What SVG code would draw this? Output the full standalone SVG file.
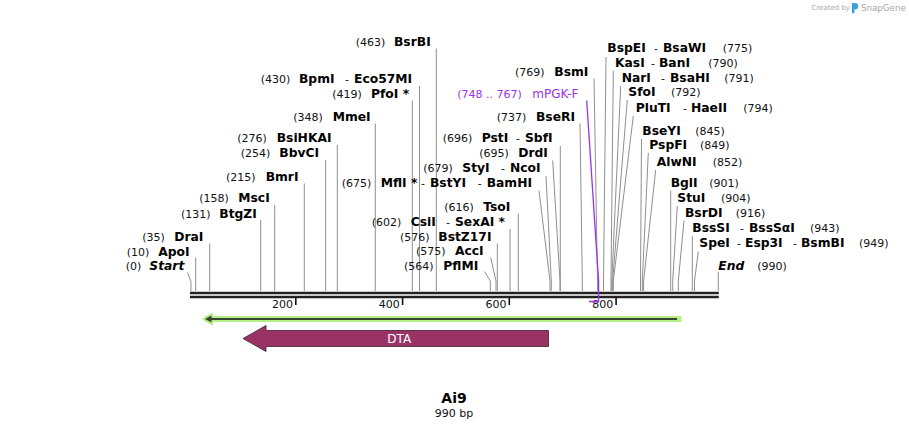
<svg xmlns="http://www.w3.org/2000/svg" width="909" height="430" viewBox="0 0 909 430">
<style>
text{font-family:"DejaVu Sans",Verdana,sans-serif;}
.n{font-size:12.3px;font-weight:bold;fill:#000;}
.i{font-size:12.3px;font-weight:bold;font-style:italic;fill:#000;}
.p{font-size:11px;fill:#111;}
.pu{fill:#9933ee;}
.c{fill:none;stroke:#8f8f8f;stroke-width:1;}
.cp{fill:none;stroke:#9933ee;stroke-width:1.3;}
.rl{stroke:#222;stroke-width:2.7;}
.tk{stroke:#111;stroke-width:1.6;}
.tl{font-size:11px;fill:#111;text-anchor:end;}
</style>
<rect width="909" height="430" fill="#fff"/>

<g id="watermark">
<text x="811.5" y="10" style="font-size:7px;fill:#a8a8a8;">Created by</text>
<path d="M852,3 h3 a3.2,3.2 0 0 1 0,6.4 h-0.6 v3.8 h-2.4 z" fill="#3aa0e0"/>
<text x="861" y="10.5" style="font-size:8.7px;fill:#a8a8a8;">SnapGene</text>
</g>

<g id="connectors">
<path class="c" d="M187.5,272.5 L191,281.5 V291"/>
<path class="c" d="M195.7,257.5 V291"/>
<path class="c" d="M209.7,243.5 V291"/>
<path class="c" d="M260.7,220 V291"/>
<path class="c" d="M274.7,205 V291"/>
<path class="c" d="M304.3,183.5 V291"/>
<path class="c" d="M325.7,160 V291"/>
<path class="c" d="M337.3,145 V291"/>
<path class="c" d="M375.3,123.5 V291"/>
<path class="c" d="M412.3,100.5 V291"/>
<path class="c" d="M419.5,86 V291"/>
<path class="c" d="M436.3,48.5 V291"/>
<path class="c" d="M484.5,271.5 L490.3,281 V291"/>
<path class="c" d="M490.7,257.5 L496,281 V291"/>
<path class="c" d="M497.3,243.5 V291"/>
<path class="c" d="M510,229 V291"/>
<path class="c" d="M518.3,213.5 V291"/>
<path class="c" d="M539,190.5 L550,281 V291"/>
<path class="c" d="M546,176 L551.3,281 V291"/>
<path class="c" d="M552.7,160.5 L560,281 V291"/>
<path class="c" d="M560.3,146 V291"/>
<path class="c" d="M580,123.5 L582.3,281 V291"/>
<path class="c" d="M594,78.5 L597.5,281 V291"/>
<path class="c" d="M606,57 L603.5,281 V291"/>
<path class="c" d="M613.3,71 L611,281 V291"/>
<path class="c" d="M620.7,86 L611.8,281 V291"/>
<path class="c" d="M627.3,100 L612.6,281 V291"/>
<path class="c" d="M633.3,116 L613.3,281 V291"/>
<path class="c" d="M641.5,139 L640.5,281 V291"/>
<path class="c" d="M648.3,153 L642.3,281 V291"/>
<path class="c" d="M655.7,170 L643.6,281 V291"/>
<path class="c" d="M670.7,190.5 V291"/>
<path class="c" d="M677.3,206 L672.7,281 V291"/>
<path class="c" d="M684,220.5 L678.3,281 V291"/>
<path class="c" d="M692.3,236 V291"/>
<path class="c" d="M698.3,251.5 L694.5,281 V291"/>
<path class="c" d="M718.3,272 V291"/>
</g>

<g id="ruler">
<line class="rl" x1="190" y1="293" x2="718.8" y2="293"/>
<line class="rl" x1="190" y1="297" x2="718.8" y2="297"/>
<line class="tk" x1="295.8" y1="298" x2="295.8" y2="305"/>
<line class="tk" x1="402.6" y1="298" x2="402.6" y2="305"/>
<line class="tk" x1="509.3" y1="298" x2="509.3" y2="305"/>
<line class="tk" x1="616.1" y1="298" x2="616.1" y2="305"/>
<text class="tl" x="293" y="307.5">200</text>
<text class="tl" x="399.8" y="307.5">400</text>
<text class="tl" x="506.5" y="307.5">600</text>
<text class="tl" x="613.3" y="307.5">800</text>
</g>

<g id="primer-mPGK-F">
<path class="cp" d="M586.7,100.5 L598.6,281 V301.5 H589"/>
<text class="p pu" x="457.3" y="97.7">(748 .. 767)</text>
<text class="pu" x="532.3" y="97.7" style="font-size:12px;">mPGK-F</text>
</g>

<g id="enz-BsrBI"><text class="p" x="355.7" y="46">(463)</text><text class="n" x="394" y="46">BsrBI</text></g>
<g id="enz-BpmI"><text class="p" x="260.7" y="83.3">(430)</text><text class="n" x="299" y="83.3">BpmI</text><text class="p" x="345" y="83.3">-</text><text class="n" x="354" y="83.3">Eco57MI</text></g>
<g id="enz-PfoI"><text class="p" x="332.3" y="97.7">(419)</text><text class="n" x="371" y="97.7">PfoI *</text></g>
<g id="enz-MmeI"><text class="p" x="293.3" y="120.7">(348)</text><text class="n" x="332.7" y="120.7">MmeI</text></g>
<g id="enz-BsiHKAI"><text class="p" x="237.3" y="142.3">(276)</text><text class="n" x="276.7" y="142.3">BsiHKAI</text></g>
<g id="enz-BbvCI"><text class="p" x="240.7" y="157.3">(254)</text><text class="n" x="279.3" y="157.3">BbvCI</text></g>
<g id="enz-BmrI"><text class="p" x="226" y="180.7">(215)</text><text class="n" x="265.7" y="180.7">BmrI</text></g>
<g id="enz-MscI"><text class="p" x="199.3" y="202.3">(158)</text><text class="n" x="238.3" y="202.3">MscI</text></g>
<g id="enz-BtgZI"><text class="p" x="181" y="217.7">(131)</text><text class="n" x="219.3" y="217.7">BtgZI</text></g>
<g id="enz-DraI"><text class="p" x="142.3" y="240.7">(35)</text><text class="n" x="174.3" y="240.7">DraI</text></g>
<g id="enz-ApoI"><text class="p" x="126.7" y="256">(10)</text><text class="n" x="158.3" y="256">ApoI</text></g>
<g id="start"><text class="p" x="125.7" y="270">(0)</text><text class="i" x="149.3" y="270">Start</text></g>

<g id="enz-BsmI"><text class="p" x="515" y="75.7">(769)</text><text class="n" x="554.3" y="75.7">BsmI</text></g>
<g id="enz-BseRI"><text class="p" x="496.7" y="120.7">(737)</text><text class="n" x="536" y="120.7">BseRI</text></g>
<g id="enz-PstI"><text class="p" x="442.7" y="142.3">(696)</text><text class="n" x="481.7" y="142.3">PstI</text><text class="p" x="516" y="142.3">-</text><text class="n" x="525" y="142.3">SbfI</text></g>
<g id="enz-DrdI"><text class="p" x="479.3" y="157.3">(695)</text><text class="n" x="518.3" y="157.3">DrdI</text></g>
<g id="enz-StyI"><text class="p" x="423.3" y="172.3">(679)</text><text class="n" x="462.3" y="172.3">StyI</text><text class="p" x="501" y="172.3">-</text><text class="n" x="510" y="172.3">NcoI</text></g>
<g id="enz-MflI"><text class="p" x="341.7" y="187.3">(675)</text><text class="n" x="380.7" y="187.3">MflI *</text><text class="p" x="421" y="187.3">-</text><text class="n" x="430" y="187.3">BstYI</text><text class="p" x="477.7" y="187.3">-</text><text class="n" x="486.7" y="187.3">BamHI</text></g>
<g id="enz-TsoI"><text class="p" x="444.3" y="210.7">(616)</text><text class="n" x="483.3" y="210.7">TsoI</text></g>
<g id="enz-CsiI"><text class="p" x="371.7" y="225.7">(602)</text><text class="n" x="410.7" y="225.7">CsiI</text><text class="p" x="446" y="225.7">-</text><text class="n" x="455" y="225.7">SexAI *</text></g>
<g id="enz-BstZ17I"><text class="p" x="400" y="240.7">(576)</text><text class="n" x="438.3" y="240.7">BstZ17I</text></g>
<g id="enz-AccI"><text class="p" x="416" y="255">(575)</text><text class="n" x="455" y="255">AccI</text></g>
<g id="enz-PflMI"><text class="p" x="404" y="270">(564)</text><text class="n" x="443.3" y="270">PflMI</text></g>

<g id="enz-BspEI"><text class="n" x="607.3" y="52.3">BspEI</text><text class="p" x="654" y="52.3">-</text><text class="n" x="663" y="52.3">BsaWI</text><text class="p" x="722.7" y="52.3">(775)</text></g>
<g id="enz-KasI"><text class="n" x="615" y="66.7">KasI</text><text class="p" x="651" y="66.7">-</text><text class="n" x="659" y="66.7">BanI</text><text class="p" x="708.3" y="66.7">(790)</text></g>
<g id="enz-NarI"><text class="n" x="621.7" y="81.7">NarI</text><text class="p" x="661" y="81.7">-</text><text class="n" x="670" y="81.7">BsaHI</text><text class="p" x="724.3" y="81.7">(791)</text></g>
<g id="enz-SfoI"><text class="n" x="628.3" y="96">SfoI</text><text class="p" x="671" y="96">(792)</text></g>
<g id="enz-PluTI"><text class="n" x="635.7" y="112.3">PluTI</text><text class="p" x="683" y="112.3">-</text><text class="n" x="691" y="112.3">HaeII</text><text class="p" x="743.3" y="112.3">(794)</text></g>
<g id="enz-BseYI"><text class="n" x="642.3" y="135">BseYI</text><text class="p" x="695.3" y="135">(845)</text></g>
<g id="enz-PspFI"><text class="n" x="649.3" y="149.3">PspFI</text><text class="p" x="700" y="149.3">(849)</text></g>
<g id="enz-AlwNI"><text class="n" x="656.7" y="165.7">AlwNI</text><text class="p" x="712.7" y="165.7">(852)</text></g>
<g id="enz-BglI"><text class="n" x="670.7" y="187.3">BglI</text><text class="p" x="709.3" y="187.3">(901)</text></g>
<g id="enz-StuI"><text class="n" x="677.3" y="202.3">StuI</text><text class="p" x="721" y="202.3">(904)</text></g>
<g id="enz-BsrDI"><text class="n" x="685" y="216.7">BsrDI</text><text class="p" x="735.7" y="216.7">(916)</text></g>
<g id="enz-BssSI"><text class="n" x="692.3" y="232.3">BssSI</text><text class="p" x="740" y="232.3">-</text><text class="n" x="749" y="232.3">BssSαI</text><text class="p" x="810" y="232.3">(943)</text></g>
<g id="enz-SpeI"><text class="n" x="699.3" y="247.3">SpeI</text><text class="p" x="737" y="247.3">-</text><text class="n" x="745" y="247.3">Esp3I</text><text class="p" x="793" y="247.3">-</text><text class="n" x="801" y="247.3">BsmBI</text><text class="p" x="859" y="247.3">(949)</text></g>
<g id="end"><text class="i" x="718.3" y="270">End</text><text class="p" x="757.3" y="270">(990)</text></g>

<g id="feature-green">
<path d="M208,319 H678.5" stroke="#b3ef86" stroke-width="6" fill="none" stroke-linecap="square"/>
<path d="M203.5,319 L212,313.8 V324.2 Z" fill="#b3ef86" stroke="#b3ef86" stroke-width="2" stroke-linejoin="round"/>
<path d="M209,319 H677" stroke="#3a4530" stroke-width="1.8" fill="none"/>
<path d="M205,319 L211.5,315.6 V322.4 Z" fill="#3a4530"/>
</g>

<g id="feature-DTA">
<polygon points="243,338.5 266,325.5 266,330.5 548.5,330.5 548.5,346.5 266,346.5 266,351.5" fill="#993366" stroke="#3a2030" stroke-width="0.8"/>
<text x="399.3" y="342.8" text-anchor="middle" style="font-size:12px;fill:#fff;">DTA</text>
</g>

<g id="title">
<text x="454" y="403" text-anchor="middle" style="font-size:14px;font-weight:bold;fill:#000;">Ai9</text>
<text x="454" y="417" text-anchor="middle" style="font-size:11px;fill:#111;">990 bp</text>
</g>
</svg>
